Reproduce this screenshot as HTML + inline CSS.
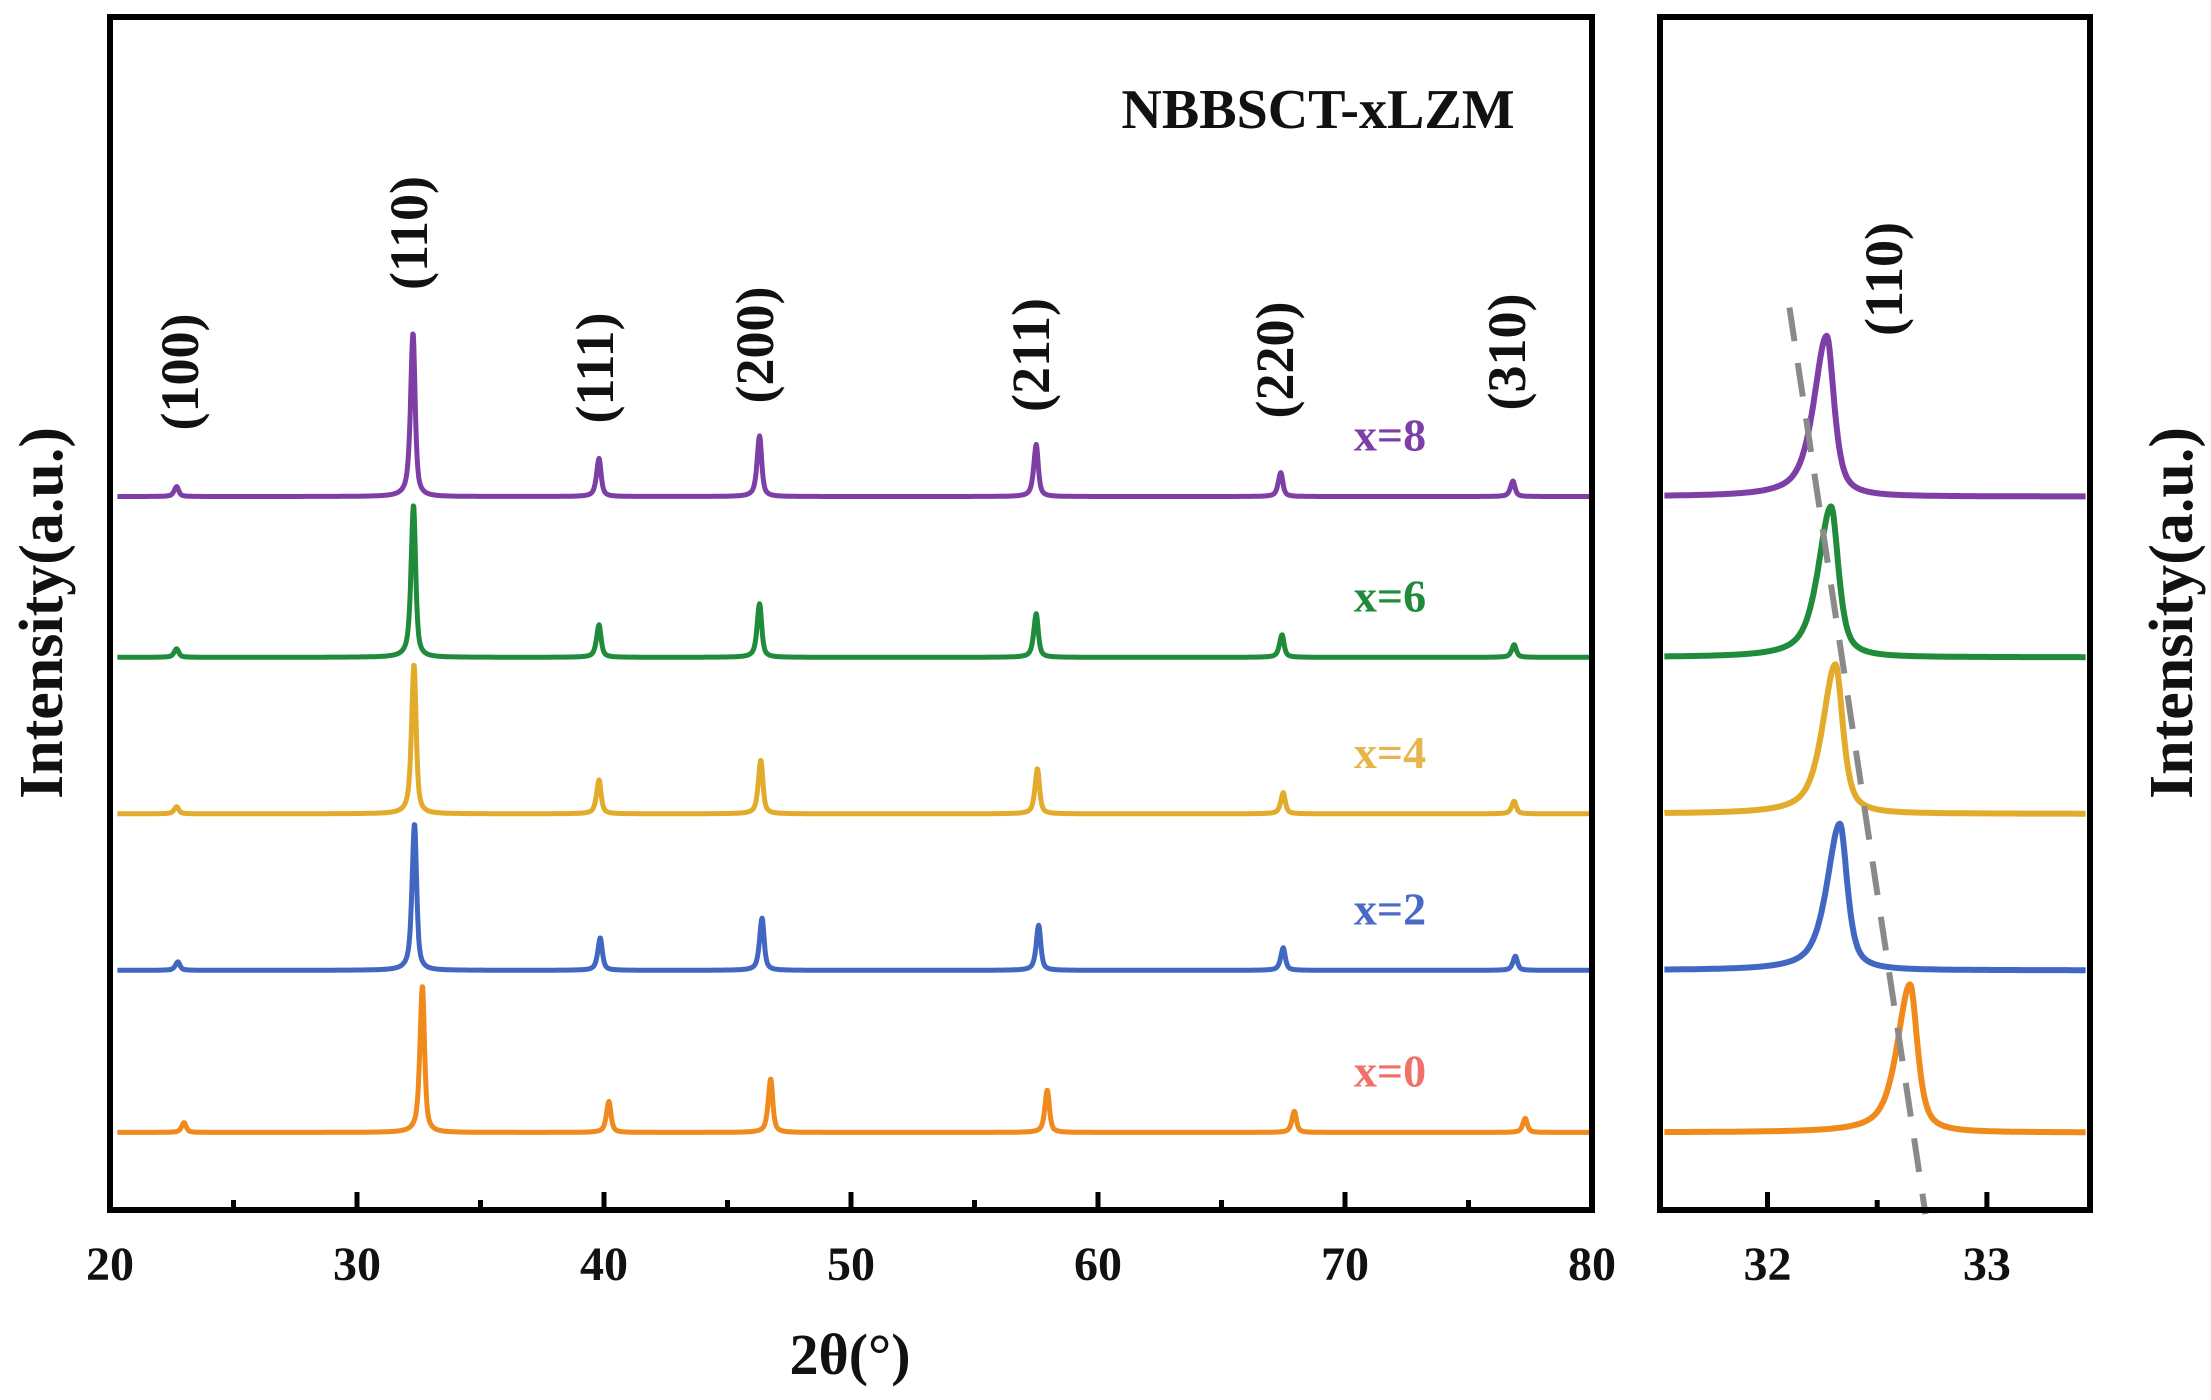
<!DOCTYPE html>
<html><head><meta charset="utf-8">
<style>
html,body{margin:0;padding:0;background:#fff;}
svg{display:block;}
text{font-family:"Liberation Serif",serif;font-weight:bold;}
</style></head>
<body>
<svg id="chart" width="2211" height="1400" viewBox="0 0 2211 1400" xmlns="http://www.w3.org/2000/svg">
  <rect x="0" y="0" width="2211" height="1400" fill="#fff"/>
  <g id="main-lines"></g>
  <g id="zoom-lines"></g>
  <g id="axes"></g>
  <g id="labels"></g>
</svg>
<script>
// ---------- data ----------
const seriesNames = ["x=8","x=6","x=4","x=2","x=0"];
const seriesColors = ["#7d3fa6","#1f8b3b","#e2ab2c","#4267c2","#f08a1c"];
const labelColors = ["#7d3fa6","#1f8b3b","#e6b64a","#4a6ac6","#f2706a"];
const seriesOffsets = [506, 392, 281, 170, 55];   // intensity units
const hklLabels = ["(100)","(110)","(111)","(200)","(211)","(220)","(310)"];
const peaks_x8 = [22.7, 32.27, 39.8, 46.3, 57.5, 67.4, 76.8];
const peaks_x6 = [22.7, 32.29, 39.8, 46.3, 57.5, 67.45, 76.85];
const peaks_x4 = [22.7, 32.31, 39.8, 46.35, 57.55, 67.5, 76.85];
const peaks_x2 = [22.75, 32.33, 39.85, 46.4, 57.6, 67.5, 76.9];
const peaks_x0 = [23.0, 32.65, 40.2, 46.75, 57.95, 67.95, 77.3];
const heights_x8 = [7, 116, 27, 43, 37, 17, 11];
const heights_x6 = [6, 108, 23, 38, 31, 16, 9];
const heights_x4 = [5, 106, 24, 38, 32, 15, 9];
const heights_x2 = [6, 104, 23, 37, 32, 16, 10];
const heights_x0 = [7, 104, 22, 38, 30, 15, 10];
const zoomHeights = [114, 107, 106, 104, 105];
const xTicksMain = [20,30,40,50,60,70,80];
const xMinorMain = [25,35,45,55,65,75];
const xTicksZoom = [32,33];
const xMinorZoom = [32.5];
const dashLine = [[32.1, 640], [32.72, -3]]; // [2θ, intensity]

const allPeaks = [peaks_x8,peaks_x6,peaks_x4,peaks_x2,peaks_x0];
const allHeights = [heights_x8,heights_x6,heights_x4,heights_x2,heights_x0];

// ---------- scales ----------
const M = {l:110, r:1592, t:17, b:1210, x0:20, x1:80};
const Z = {l:1660, r:2090, t:17, b:1210, x0:31.51, x1:33.47};
const YS = 1.41;
function xm(v){return M.l + (v-M.x0)/(M.x1-M.x0)*(M.r-M.l);}
function xz(v){return Z.l + (v-Z.x0)/(Z.x1-Z.x0)*(Z.r-Z.l);}
function yv(v){return M.b - v*YS;}

const NS="http://www.w3.org/2000/svg";
function mk(tag, attrs, parent){const e=document.createElementNS(NS,tag);for(const k in attrs)e.setAttribute(k,attrs[k]);parent.appendChild(e);return e;}

function prof(x, c, h, wl, wr){
  const d = x - c; const w = d<0?wl:wr;
  const u = d/w;
  return h*(0.7/(1+u*u) + 0.3*Math.exp(-0.693*u*u));
}

const gMain=document.getElementById('main-lines');
const gZoom=document.getElementById('zoom-lines');
const gAx=document.getElementById('axes');
const gLab=document.getElementById('labels');

for(let s=0;s<seriesNames.length;s++){
  const pk=allPeaks[s], hs=allHeights[s];
  let d="";
  for(let x=20.3;x<=79.9;x+=0.02){
    let v=seriesOffsets[s];
    for(let i=0;i<pk.length;i++) v+=prof(x,pk[i],hs[i],0.12,0.1);
    d+=(d?"L":"M")+xm(x).toFixed(1)+","+yv(v).toFixed(1);
  }
  const p=mk('path',{d:d,fill:'none',stroke:seriesColors[s],'stroke-width':5,'stroke-linejoin':'round'},gMain);
  
  

  let dz="";
  const c=pk[1];
  for(let x=31.53;x<=33.45;x+=0.004){
    const v=seriesOffsets[s]+prof(x,c,zoomHeights[s],0.07,0.04);
    dz+=(dz?"L":"M")+xz(x).toFixed(1)+","+yv(v).toFixed(1);
  }
  const pz=mk('path',{d:dz,fill:'none',stroke:seriesColors[s],'stroke-width':6,'stroke-linejoin':'round'},gZoom);
  
  

  const t=mk('text',{x:1390,y:yv(seriesOffsets[s])-46,'text-anchor':'middle','font-size':46,fill:labelColors[s]},gLab);
  t.textContent=seriesNames[s];
  
  
}

// dashed guide
const dl=mk('line',{x1:xz(dashLine[0][0]),y1:yv(dashLine[0][1]),x2:xz(dashLine[1][0]),y2:yv(dashLine[1][1]),stroke:'#8a8a8a','stroke-width':6,'stroke-dasharray':'34,22'},gZoom);



// frames
const f1=mk('rect',{x:M.l,y:M.t,width:M.r-M.l,height:M.b-M.t,fill:'none',stroke:'#000','stroke-width':6},gAx);

const f2=mk('rect',{x:Z.l,y:Z.t,width:Z.r-Z.l,height:Z.b-Z.t,fill:'none',stroke:'#000','stroke-width':6},gAx);


xTicksMain.forEach(v=>{
  const l=mk('line',{x1:xm(v),x2:xm(v),y1:M.b,y2:M.b-18,stroke:'#000','stroke-width':5},gAx);
  
  const t=mk('text',{x:xm(v),y:1280,'text-anchor':'middle','font-size':48,fill:'#111'},gAx);
  t.textContent=v;
  
});
xMinorMain.forEach(v=>{
  const l=mk('line',{x1:xm(v),x2:xm(v),y1:M.b,y2:M.b-10,stroke:'#000','stroke-width':5},gAx);
  
});
xTicksZoom.forEach(v=>{
  const l=mk('line',{x1:xz(v),x2:xz(v),y1:Z.b,y2:Z.b-18,stroke:'#000','stroke-width':5},gAx);
  
  const t=mk('text',{x:xz(v),y:1280,'text-anchor':'middle','font-size':48,fill:'#111'},gAx);
  t.textContent=v;
  
});
xMinorZoom.forEach(v=>{
  const l=mk('line',{x1:xz(v),x2:xz(v),y1:Z.b,y2:Z.b-10,stroke:'#000','stroke-width':5},gAx);
  
});

// hkl labels (centers)
const hklCx=[180,409,595,755,1031,1275,1507];
const hklCy=[372,233,368,345,355,360,352];
hklLabels.forEach((h,i)=>{
  const t=mk('text',{x:0,y:0,'text-anchor':'middle','font-size':54,fill:'#111',transform:'translate('+(hklCx[i]+18)+','+hklCy[i]+') rotate(-90)'},gLab);
  t.textContent=h;
  
  
});
const hz=mk('text',{x:0,y:0,'text-anchor':'middle','font-size':54,fill:'#111',transform:'translate(1902,279) rotate(-90)'},gLab);
hz.textContent="(110)";

</script>
<svg style="position:absolute;left:0;top:0" width="2211" height="1400">
  <text x="1318" y="128" text-anchor="middle" font-size="56" fill="#111">NBBSCT-xLZM</text>
  <text x="850" y="1374" text-anchor="middle" font-size="58" fill="#111">2θ(°)</text>
  <text transform="translate(62,613) rotate(-90)" text-anchor="middle" font-size="62" fill="#111">Intensity(a.u.)</text>
  <text transform="translate(2192,613) rotate(-90)" text-anchor="middle" font-size="62" fill="#111">Intensity(a.u.)</text>
</svg>
</body></html>
